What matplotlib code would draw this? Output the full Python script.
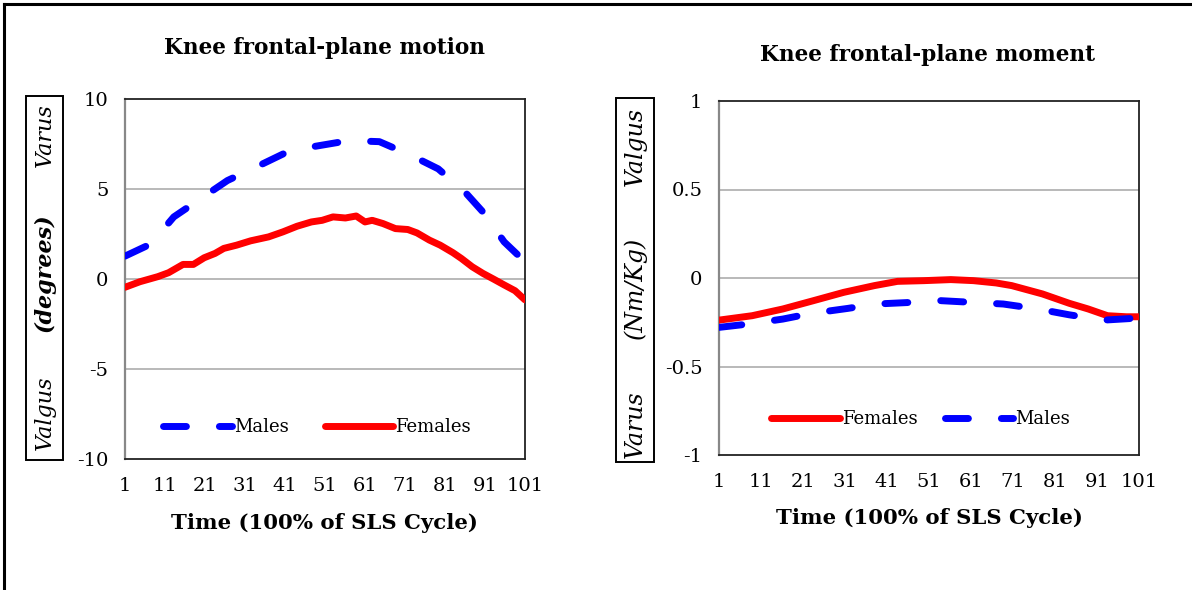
import matplotlib
matplotlib.use("Agg")
import matplotlib.pyplot as plt
from matplotlib.patches import Rectangle
from matplotlib.lines import Line2D

# ---------------- data ----------------
x_ticks = [1, 11, 21, 31, 41, 51, 61, 71, 81, 91, 101]

motion_male_x = [1, 7.4, 13.2, 19.5, 26.6, 33.3, 41.4, 48.5, 57, 64.6, 72.6, 79.3, 86, 90.5, 95.8, 101]
motion_male_y = [1.27, 1.94, 3.45, 4.4, 5.47, 6.17, 7.04, 7.37, 7.69, 7.63, 6.86, 6.12, 4.83, 3.72, 2.06, 0.96]

motion_female_x = [1, 4.75, 9.2, 11.9, 15.5, 18.1, 20.8, 23.5, 25.7, 28.9, 32.4, 36.9, 40.5, 44, 47.6,
                   50.3, 53, 56.1, 58.8, 61, 62.8, 65.5, 68.6, 71.7, 74, 77.1, 79.8, 83, 85.1, 87.8,
                   90.5, 93.1, 95.8, 98.5, 101]
motion_female_y = [-0.46, -0.15, 0.13, 0.35, 0.81, 0.81, 1.18, 1.42, 1.7, 1.88, 2.12, 2.34, 2.62, 2.93, 3.17,
                   3.26, 3.45, 3.39, 3.5, 3.17, 3.26, 3.08, 2.8, 2.75, 2.56, 2.16, 1.88, 1.46, 1.14, 0.68,
                   0.31, 0.0, -0.33, -0.65, -1.16]

moment_female_x = [1, 8.9, 16.2, 23.5, 30.7, 38, 43.5, 49.8, 56.2, 61.6, 67, 70.7, 78, 84.4, 88.9, 93.5, 98, 101]
moment_female_y = [-0.238, -0.213, -0.175, -0.128, -0.081, -0.043, -0.019, -0.015, -0.009, -0.015, -0.028,
                   -0.043, -0.09, -0.143, -0.175, -0.213, -0.219, -0.219]

moment_male_x = [1, 8, 16.2, 23, 31.6, 38.4, 46.5, 53.8, 61.6, 68.7, 76.9, 84.4, 92.6, 101]
moment_male_y = [-0.279, -0.26, -0.232, -0.2, -0.172, -0.147, -0.138, -0.128, -0.138, -0.147, -0.175,
                 -0.208, -0.238, -0.226]

# ---------------- style ----------------
SERIF = "DejaVu Serif"
plt.rcParams["font.family"] = SERIF
BLUE = "#0000ff"
RED = "#ff0000"
LW = 5
DASH = (3.3, 4.75)

fig = plt.figure(figsize=(11.92, 5.9), dpi=100)
W, H = 1192, 590


def ax_rect(x0, x1, ytop, ybot):
    return [x0 / W, (H - ybot) / H, (x1 - x0) / W, (ybot - ytop) / H]


def style_axes(ax, ylim, yticks, yticklabels):
    ax.set_xlim(1, 101)
    ax.set_ylim(*ylim)
    ax.set_xticks(x_ticks)
    ax.set_xticklabels([str(t) for t in x_ticks])
    ax.set_yticks(yticks)
    ax.set_yticklabels(yticklabels)
    ax.tick_params(length=0, labelsize=14)
    ax.tick_params(axis="x", pad=13)
    ax.tick_params(axis="y", pad=12)
    for v in yticks[1:-1]:
        ax.axhline(v, color="#a6a6a6", lw=1.1, zorder=1)
    for s in ["top", "right", "bottom"]:
        ax.spines[s].set_color("#222222")
        ax.spines[s].set_linewidth(1.3)
    ax.spines["left"].set_color("#888888")
    ax.spines["left"].set_linewidth(1.6)


def ylabel_box(x0, x1, ytop, ybot, labels, size):
    r = Rectangle((x0 / W, (H - ybot) / H), (x1 - x0) / W, (ybot - ytop) / H,
                  transform=fig.transFigure, fill=False, edgecolor="black", lw=1.4)
    fig.patches.append(r)
    xc = (x0 + x1) / 2 / W
    for text, yc, weight in labels:
        fig.text(xc, (H - yc) / H, text, rotation=90, ha="center", va="center",
                 fontsize=size, style="italic", weight=weight)


# ---- left panel ----
ax1 = fig.add_axes(ax_rect(125, 525, 99, 459))
style_axes(ax1, (-10, 10), [-10, -5, 0, 5, 10], ["-10", "-5", "0", "5", "10"])
l_m, = ax1.plot(motion_male_x, motion_male_y, color=BLUE, lw=LW, dashes=DASH,
                dash_capstyle="round", solid_capstyle="round", zorder=3)
l_f, = ax1.plot(motion_female_x, motion_female_y, color=RED, lw=LW,
                solid_capstyle="round", solid_joinstyle="round", zorder=3)
ax1.legend([l_m, l_f], ["Males", "Females"], loc="center", bbox_to_anchor=(0.48, 0.089),
           ncol=2, frameon=False, fontsize=13, handlelength=3.8, handletextpad=0.1,
           columnspacing=2.0)
fig.text(325 / W, (H - 48) / H, "Knee frontal-plane motion", ha="center", va="center",
         fontsize=15.6, weight="bold")
fig.text(324 / W, (H - 523) / H, "Time (100% of SLS Cycle)", ha="center", va="center",
         fontsize=15.3, weight="bold")
ylabel_box(26, 63, 96, 460, [("Varus", 135, "normal"), ("(degrees)", 273, "bold"),
                             ("Valgus", 413, "normal")], 16)

# ---- right panel ----
ax2 = fig.add_axes(ax_rect(719, 1139, 101, 455))
style_axes(ax2, (-1, 1), [-1, -0.5, 0, 0.5, 1], ["-1", "-0.5", "0", "0.5", "1"])
r_f, = ax2.plot(moment_female_x, moment_female_y, color=RED, lw=LW,
                solid_capstyle="round", solid_joinstyle="round", zorder=3)
r_m, = ax2.plot(moment_male_x, moment_male_y, color=BLUE, lw=LW, dashes=DASH,
                dash_capstyle="round", solid_capstyle="round", zorder=3)
ax2.legend([r_f, r_m], ["Females", "Males"], loc="center", bbox_to_anchor=(0.48, 0.102),
           ncol=2, frameon=False, fontsize=13, handlelength=3.8, handletextpad=0.1,
           columnspacing=1.5)
fig.text(927 / W, (H - 55) / H, "Knee frontal-plane moment", ha="center", va="center",
         fontsize=15.6, weight="bold")
fig.text(929 / W, (H - 518) / H, "Time (100% of SLS Cycle)", ha="center", va="center",
         fontsize=15.3, weight="bold")
ylabel_box(616, 654, 98, 462, [("Valgus", 146, "normal"), ("(Nm/Kg)", 288, "normal"),
                               ("Varus", 424, "normal")], 17)

# ---- outer border (top and left) ----
fig.add_artist(Line2D([4 / W, 4 / W], [0, (H - 4) / H], transform=fig.transFigure,
                      color="black", lw=2.2))
fig.add_artist(Line2D([4 / W, 1], [(H - 4) / H, (H - 4) / H], transform=fig.transFigure,
                      color="black", lw=2.2))

fig.savefig("out.png", dpi=100, facecolor="white")
